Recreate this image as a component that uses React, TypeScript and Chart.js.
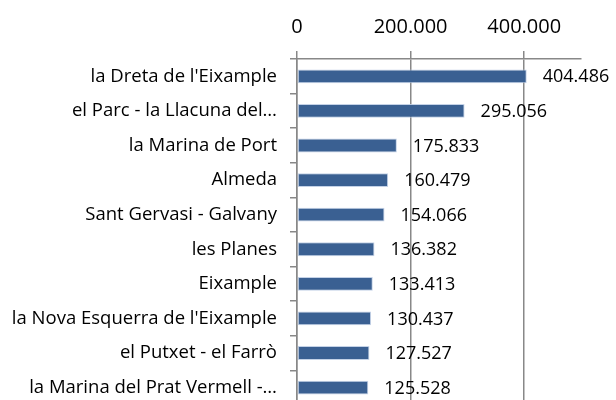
import React, { useEffect, useRef } from "react";
import { Chart, registerables } from "chart.js";

Chart.register(...registerables);

const categories = [
  "la Dreta de l'Eixample",
  "el Parc - la Llacuna del…",
  "la Marina de Port",
  "Almeda",
  "Sant Gervasi - Galvany",
  "les Planes",
  "Eixample",
  "la Nova Esquerra de l'Eixample",
  "el Putxet - el Farrò",
  "la Marina del Prat Vermell -…",
];
const values = [404486, 295056, 175833, 160479, 154066, 136382, 133413, 130437, 127527, 125528];
const xTickValues = [0, 200000, 400000];
const axisMin = 0;
const axisMax = 500000;

const fmt = (v: number) => String(Math.round(v)).replace(/\B(?=(\d{3})+(?!\d))/g, ".");

const FONT = "'Open Sans', sans-serif";
const GRID = "#888888";
const W = 616;
const H = 429;

export default function App() {
  const ref = useRef<HTMLCanvasElement | null>(null);
  useEffect(() => {
    if (!ref.current) return;
    const labelPlugin = {
      id: "barLabels",
      afterDatasetsDraw(chart: any) {
        const ctx = chart.ctx;
        const meta = chart.getDatasetMeta(0);
        ctx.save();
        ctx.font = `18px ${FONT}`;
        ctx.fillStyle = "#000";
        ctx.textAlign = "left";
        ctx.textBaseline = "middle";
        meta.data.forEach((el: any, i: number) => {
          ctx.fillText(fmt(values[i]), el.x + 16, el.y + 1);
        });
        ctx.restore();
      },
    };
    const chart = new Chart(ref.current, {
      type: "bar",
      data: {
        labels: categories,
        datasets: [
          {
            data: values,
            backgroundColor: "#3A6092",
            borderColor: "rgba(190,205,228,0.9)",
            borderWidth: 1,
            borderSkipped: false,
            barPercentage: 0.4,
            categoryPercentage: 1,
          },
        ],
      },
      options: {
        indexAxis: "y",
        animation: false,
        responsive: false,
        layout: { padding: { left: 0, right: 35, top: 0, bottom: 0 } },
        plugins: { legend: { display: false }, tooltip: { enabled: false } },
        scales: {
          x: {
            position: "top",
            min: axisMin,
            max: axisMax,
            afterBuildTicks: (scale: any) => {
              scale.ticks = xTickValues.map((v) => ({ value: v }));
            },
            afterFit: (scale: any) => {
              scale.height = 59;
            },
            grid: { color: GRID, lineWidth: 1.5, tickLength: 8, drawOnChartArea: true },
            border: { display: true, color: GRID, width: 1.5 },
            ticks: {
              color: "#000",
              font: { family: FONT, size: 20 },
              padding: 12,
              maxRotation: 0,
              callback: (v: any) => fmt(Number(v)),
            },
          },
          y: {
            afterFit: (scale: any) => {
              scale.width = 297;
            },
            grid: { color: GRID, lineWidth: 1.5, tickLength: 7, drawOnChartArea: false, offset: true },
            border: { display: true, color: GRID, width: 1.5 },
            ticks: {
              color: "#000",
              font: { family: FONT, size: 18.5 },
              padding: 13,
              autoSkip: false,
            },
          },
        },
      },
      plugins: [labelPlugin],
    });
    return () => chart.destroy();
  }, []);
  return (
    <div style={{ position: "absolute", left: 0, top: 0, width: W, height: H }}>
      <canvas ref={ref} width={W} height={H} style={{ width: W, height: H }} />
    </div>
  );
}
